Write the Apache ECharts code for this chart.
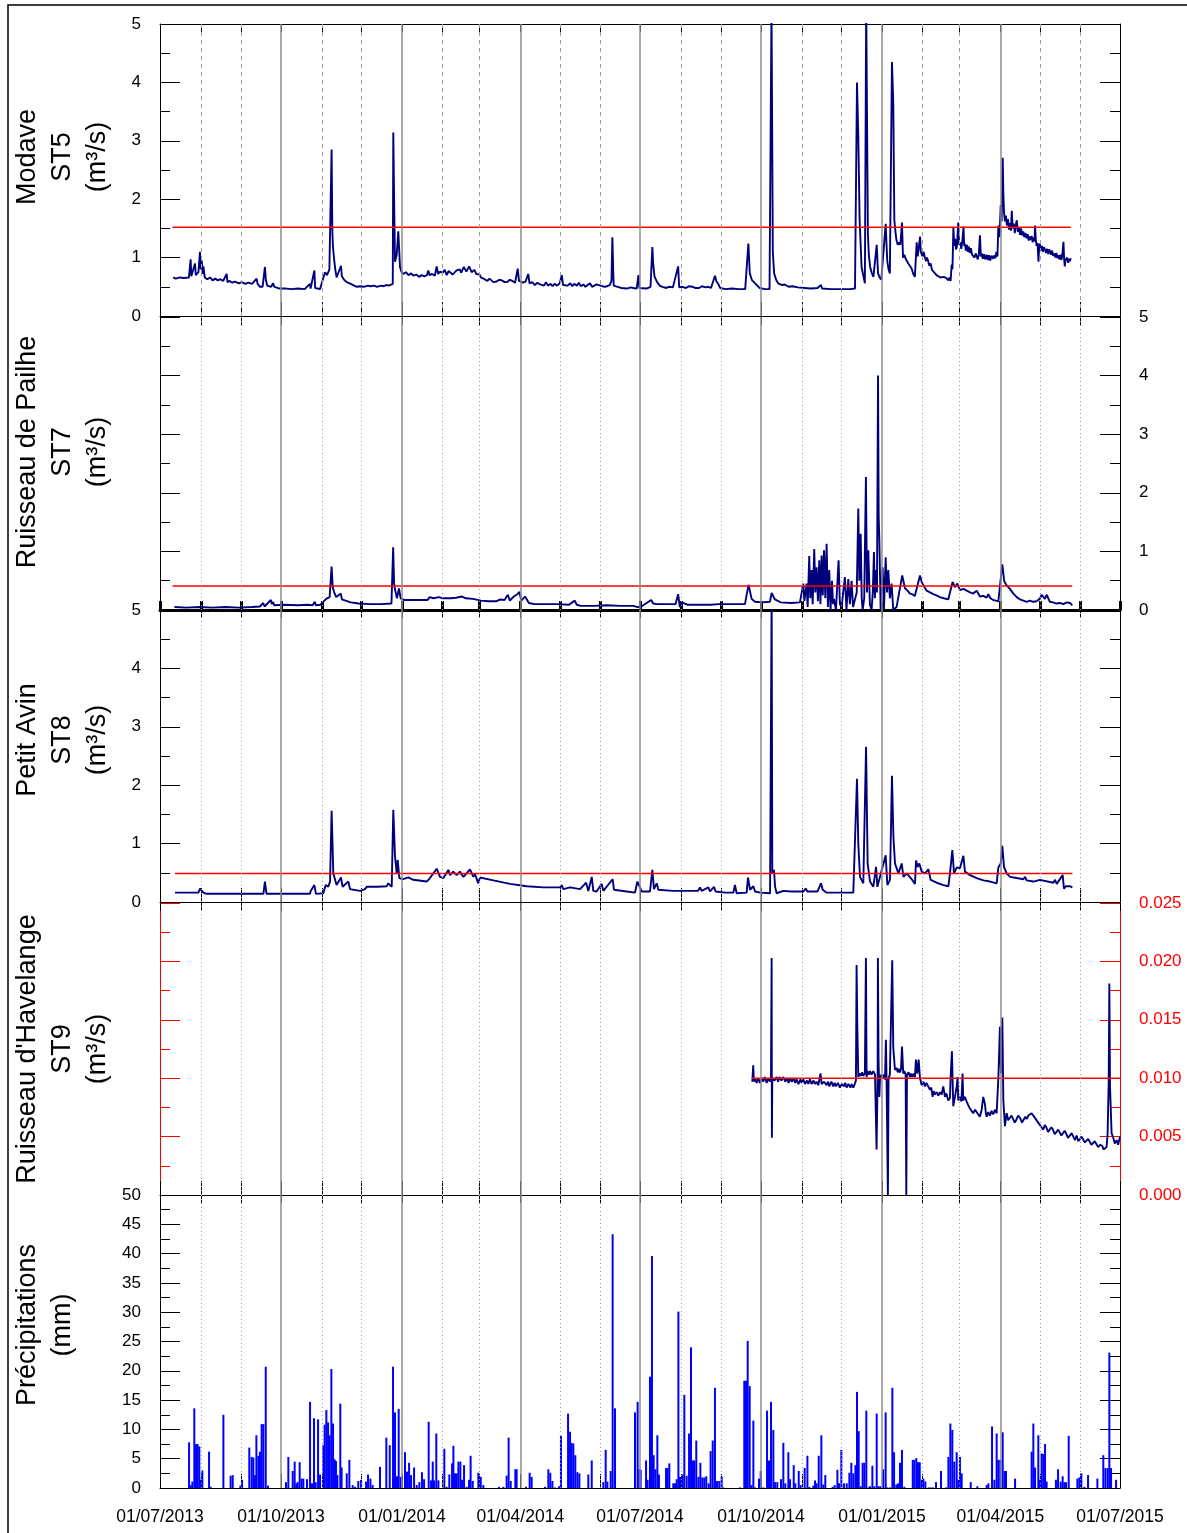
<!DOCTYPE html>
<html>
<head>
<meta charset="utf-8">
<script src="https://cdn.jsdelivr.net/npm/echarts@6/dist/echarts.min.js"></script>
<style>
  html, body { margin: 0; padding: 0; background: #fff; }
  #chart { width: 1187px; height: 1533px; }
</style>
</head>
<body>
<div id="chart"></div>
<script>
// x values are days counted from 01/07/2013
const monthStarts = [0, 31, 62, 92, 123, 153, 184, 215, 243, 274, 304, 335, 365,
  396, 427, 457, 488, 518, 549, 580, 608, 639, 669, 700, 730];
const quarterStarts = [0, 92, 184, 274, 365, 457, 549, 639, 730];
const quarterLabels = ['01/07/2013', '01/10/2013', '01/01/2014', '01/04/2014', '01/07/2014',
  '01/10/2014', '01/01/2015', '01/04/2015', '01/07/2015'];

// Modave ST5 discharge (m³/s)
const st5Flow = [[10,0.66],[12,0.64],[15,0.66],[18,0.65],[22,0.66],[23.3,0.97],[23.8,0.68],[25.3,0.68],[26.6,0.90],[27.2,0.70],[29.2,0.75],[30.4,1.10],[31,0.80],[31.7,0.95],[32.5,0.72],[33,0.85],[34,0.66],[36,0.63],[38,0.66],[40,0.61],[42,0.64],[44,0.61],[46,0.63],[48,0.60],[50.7,0.72],[51.3,0.58],[53,0.60],[55,0.57],[57,0.59],[60,0.56],[62,0.58],[65,0.55],[67,0.57],[70,0.55],[73.5,0.64],[74.2,0.55],[76,0.50],[78,0.50],[79.8,0.84],[80.5,0.62],[81.5,0.52],[83,0.55],[84.5,0.50],[86,0.56],[87,0.50],[91,0.47],[95,0.47],[100,0.46],[105,0.47],[110,0.46],[114,0.55],[114.5,0.47],[117.4,0.78],[118,0.48],[121.7,0.46],[123.5,0.60],[125.5,0.75],[127,0.70],[128.8,0.80],[130.5,2.85],[131,1.50],[131.5,1.19],[132.5,0.95],[133.4,0.78],[134.3,0.66],[137.6,0.86],[138.3,0.68],[140,0.62],[142,0.58],[145,0.55],[149.6,0.50],[152,0.51],[155,0.50],[158,0.52],[160,0.51],[163,0.52],[165,0.50],[168,0.52],[170,0.51],[172,0.53],[174,0.52],[177,0.55],[177.4,3.14],[178,2.04],[178.7,0.93],[180,1.05],[181.2,1.45],[182.5,0.84],[183.5,0.76],[185,0.72],[187,0.75],[189,0.70],[191,0.73],[192.6,0.69],[195,0.71],[197,0.67],[199,0.70],[201,0.68],[203,0.70],[204,0.78],[205,0.70],[207,0.72],[209,0.69],[210.4,0.85],[211.5,0.72],[213,0.76],[215,0.74],[216.5,0.79],[218,0.70],[219.5,0.77],[221,0.76],[222.5,0.71],[224,0.72],[225.5,0.78],[227,0.75],[228,0.80],[229,0.74],[230,0.77],[231,0.84],[232,0.83],[233,0.76],[234,0.78],[235,0.85],[236,0.82],[237,0.75],[238,0.77],[239,0.79],[240.5,0.72],[242,0.74],[243,0.71],[244,0.66],[245,0.69],[246,0.64],[247.5,0.62],[249,0.60],[250.5,0.64],[252,0.63],[253.5,0.58],[255,0.61],[256,0.59],[258,0.62],[260,0.61],[262,0.58],[264,0.58],[266,0.62],[268,0.60],[270,0.57],[272,0.81],[273,0.60],[274.5,0.62],[276,0.57],[278,0.59],[280,0.72],[281,0.56],[283,0.58],[285,0.53],[287,0.57],[289,0.54],[290,0.56],[292,0.52],[293.5,0.58],[295,0.52],[297,0.55],[298.5,0.51],[300,0.55],[302,0.52],[304,0.56],[305.5,0.70],[306.5,0.53],[308,0.55],[310,0.52],[312,0.56],[313.5,0.51],[315,0.55],[317,0.52],[318.5,0.57],[320,0.51],[322,0.54],[323.5,0.50],[325,0.53],[327,0.56],[328.5,0.50],[330,0.50],[332,0.54],[333.5,0.51],[335,0.52],[336.5,0.55],[338,0.50],[340,0.51],[342,0.53],[343.3,0.60],[344,1.35],[344.6,0.80],[345,0.52],[348,0.50],[351,0.48],[355,0.47],[358,0.49],[360,0.48],[362.5,0.47],[363.8,0.70],[364.5,0.48],[366,0.47],[370,0.47],[373,0.50],[374.4,1.18],[375,0.90],[376,0.68],[378,0.58],[380,0.52],[382,0.50],[385,0.48],[387,0.50],[390,0.49],[394,0.85],[394.8,0.49],[397,0.50],[400,0.48],[402,0.51],[405,0.50],[407,0.48],[410,0.48],[412,0.51],[415,0.49],[417,0.50],[419,0.48],[422,0.69],[423,0.60],[424.5,0.55],[426,0.48],[430,0.46],[435,0.47],[440,0.46],[445,0.46],[447.4,1.24],[448.5,0.73],[450,0.62],[452.5,0.56],[454,0.58],[456,0.48],[460,0.46],[463.5,0.46],[465,5.3],[466,1.10],[467,0.73],[468.5,0.62],[470,0.56],[473,0.53],[475,0.54],[478,0.50],[481,0.51],[485,0.49],[490,0.48],[495,0.47],[500,0.48],[502.6,0.53],[503.5,0.47],[510,0.46],[515,0.46],[520,0.46],[525,0.46],[528.5,0.47],[530,4.0],[531,3.07],[532,1.64],[533.5,0.84],[535,0.67],[536,0.56],[537,5.3],[538.3,1.40],[539,1.05],[540,0.84],[541.2,0.74],[542.5,0.67],[545,1.22],[546,0.73],[547.2,0.66],[548.5,0.62],[550,0.65],[551.8,1.58],[553,0.95],[554,0.80],[555,0.73],[556.6,4.35],[557.6,3.64],[558.4,1.64],[559.2,1.45],[560,1.30],[561,1.22],[562,1.26],[563,1.22],[564.2,1.60],[565,1.0],[566,1.05],[567,0.98],[568,0.95],[569,0.90],[570.2,0.86],[571.6,0.81],[572.8,0.72],[574,0.67],[575.4,1.26],[576.2,1.02],[577,1.18],[578,1.36],[578.5,1.10],[579,1.13],[579.8,1.02],[580.6,1.10],[581.7,1.0],[582.5,0.94],[583.2,1.00],[584,0.95],[585,0.86],[586,0.90],[587,0.79],[588,0.76],[589,0.74],[590.5,0.70],[592,0.69],[593.5,0.66],[595,0.68],[596,0.67],[597,0.64],[598,0.65],[599.5,0.61],[600.5,0.66],[601.2,0.60],[602,0.88],[602.6,0.80],[603.3,1.52],[604,1.20],[604.7,1.32],[605.3,1.14],[606,1.19],[607,1.60],[607.7,1.22],[608.5,1.26],[609.3,1.15],[610.2,1.30],[611,1.53],[611.5,1.20],[612,1.24],[612.8,1.12],[613.6,1.22],[614.3,1.10],[615,1.19],[615.8,1.08],[616.6,1.16],[617.5,1.05],[618.5,1.08],[619.4,1.00],[620.2,1.07],[621,1.03],[621.8,0.97],[622.6,1.05],[623.5,1.38],[624.2,1.02],[624.8,1.07],[625.7,0.98],[626.6,1.06],[627.5,0.97],[628.6,1.05],[629.5,0.96],[630.4,1.04],[631.3,0.95],[632.3,1.03],[633.6,0.98],[634.5,1.04],[635.3,0.99],[636,1.10],[636.8,1.02],[637.5,1.55],[638.4,1.35],[639.3,1.90],[640,1.62],[640.8,2.71],[641.3,2.10],[641.8,1.78],[642.5,1.62],[643.2,1.72],[644,1.55],[644.8,1.66],[645.6,1.48],[646.5,1.59],[647.1,1.46],[647.7,1.80],[648.4,1.50],[649.2,1.58],[650,1.42],[650.8,1.56],[651.5,1.64],[652.3,1.44],[653.1,1.52],[654,1.39],[654.8,1.50],[655.6,1.38],[656.4,1.45],[657.2,1.35],[658.1,1.42],[659,1.33],[659.8,1.40],[660.6,1.29],[661.3,1.36],[662,1.30],[662.8,1.37],[663.6,1.26],[664.3,1.34],[665,1.28],[665.4,1.55],[666,1.30],[666.6,1.20],[667.3,1.25],[668,0.93],[668.5,1.18],[669,1.24],[669.8,1.12],[670.6,1.20],[671.4,1.10],[672.2,1.18],[673,1.19],[673.8,1.08],[674.6,1.15],[675.5,1.06],[676.2,1.14],[676.8,1.14],[677.6,1.05],[678.4,1.12],[679.2,1.03],[680,1.07],[680.8,1.00],[681.6,1.08],[682.4,0.99],[683,1.04],[683.8,0.97],[684.6,1.05],[685.3,0.96],[686,1.01],[687,1.27],[687.5,0.98],[688,0.85],[688.5,0.95],[689,0.92],[689.8,1.00],[690.6,0.91],[691.4,0.98],[692,0.94],[692.5,0.99]];

// Ruisseau de Pailhe ST7 discharge (m³/s)
const st7Flow = [[11,0.05],[20,0.04],[30,0.05],[40,0.04],[50,0.05],[60,0.04],[70,0.05],[76,0.06],[78.5,0.12],[79.5,0.06],[84.3,0.17],[85,0.10],[85.8,0.14],[87,0.08],[95,0.09],[105,0.08],[112,0.09],[116,0.08],[117.7,0.14],[118.5,0.08],[122,0.09],[125,0.16],[127,0.20],[129,0.22],[130.5,0.74],[131.3,0.40],[132.3,0.31],[134,0.22],[135.2,0.20],[137.5,0.28],[138.3,0.18],[139.5,0.16],[145,0.13],[151,0.11],[160,0.10],[168,0.10],[176,0.11],[177.3,1.07],[178,0.45],[178.8,0.34],[180.2,0.20],[181.7,0.37],[183,0.20],[186,0.17],[195,0.17],[203.5,0.17],[205,0.22],[208,0.20],[212,0.22],[215,0.20],[221,0.20],[225,0.21],[229.7,0.23],[232.6,0.20],[238,0.19],[244,0.16],[250,0.15],[256,0.15],[258.7,0.18],[262,0.17],[264.5,0.26],[266,0.16],[269,0.23],[271.8,0.27],[273.3,0.31],[274.7,0.16],[277.6,0.23],[279,0.24],[280.5,0.12],[285,0.10],[295,0.10],[302,0.10],[311,0.09],[315.4,0.16],[316.9,0.09],[320,0.07],[330,0.07],[340,0.08],[350,0.07],[360,0.07],[363,0.05],[366,0.06],[373.5,0.17],[375,0.11],[378,0.10],[385,0.10],[392,0.10],[394,0.27],[395.3,0.05],[396.8,0.13],[401,0.09],[410,0.09],[418.6,0.09],[425,0.10],[432,0.10],[438,0.10],[444.8,0.10],[447.5,0.43],[449.9,0.19],[452.4,0.14],[458,0.13],[463.8,0.14],[465.1,0.29],[467.6,0.18],[472,0.13],[480,0.12],[486.6,0.13],[489.2,0.45],[490,0.15],[491.7,0.45],[492.5,0.05],[493.7,0.92],[494.5,0.20],[495.5,0.68],[496.3,0.10],[497.5,1.04],[498.3,0.30],[499.3,0.73],[500.3,0.15],[501.3,0.85],[502.2,0.10],[503.1,0.93],[504,0.25],[504.9,1.02],[505.9,0.20],[506.9,1.13],[507.9,0.05],[508.9,0.68],[509.9,0.0],[511,0.50],[511.8,0.10],[512.5,0.19],[514,0.0],[516,0.85],[517,0.10],[518.3,0.05],[519.5,0.30],[520.8,0.56],[522,0.0],[523.4,0.53],[524.6,0.10],[525.9,0.50],[527,0.05],[528.5,0.05],[529.8,0.30],[531,1.73],[531.8,0.50],[532.8,1.30],[533.6,0.20],[534.3,0.0],[535.5,0.20],[536.8,2.27],[537.6,0.30],[538.6,1.02],[539.8,0.10],[541.1,0.0],[542,0.30],[542.9,0.99],[543.6,0.20],[544.4,0.68],[545.2,0.30],[546,4.0],[546.5,1.59],[547,1.20],[548,0.0],[549.5,0.73],[550.5,0.0],[551.8,0.90],[552.8,0.30],[553.8,0.68],[555,0.20],[556.3,0.45],[557.6,0.0],[558.9,0.0],[560.1,0.05],[564.4,0.59],[566.5,0.37],[568.5,0.33],[570.3,0.28],[572,0.27],[574,0.24],[577.9,0.59],[579.2,0.48],[581,0.40],[583,0.33],[585.5,0.30],[588,0.27],[590.5,0.25],[593,0.22],[596,0.20],[599.4,0.18],[602.7,0.48],[604.5,0.39],[606.3,0.45],[608.3,0.34],[611,0.36],[613.4,0.33],[616,0.30],[618.4,0.28],[621,0.33],[623.5,0.23],[626,0.24],[628.6,0.21],[629.8,0.27],[631.5,0.20],[633.6,0.17],[635.5,0.16],[637.5,0.15],[640.5,0.78],[642,0.49],[643.8,0.42],[646.3,0.36],[648.9,0.28],[651.5,0.22],[654,0.18],[656.5,0.16],[659,0.14],[661.5,0.16],[664,0.14],[666.5,0.15],[669,0.19],[670.4,0.26],[672.9,0.19],[674.2,0.26],[676.7,0.14],[679,0.13],[681.8,0.11],[684.3,0.12],[686.9,0.10],[689.5,0.13],[692,0.12],[693.7,0.08]];

// Petit Avin ST8 discharge (m³/s)
const st8Flow = [[11.4,0.16],[20,0.16],[29.2,0.16],[30.4,0.23],[33,0.16],[35.5,0.14],[50,0.14],[65,0.14],[78.6,0.14],[79.8,0.35],[81,0.14],[91,0.14],[100,0.14],[114,0.14],[114.6,0.19],[117.4,0.29],[118.6,0.14],[124.2,0.15],[126,0.29],[128,0.26],[129.3,0.35],[130.5,1.56],[131.8,0.49],[134.3,0.29],[137.6,0.42],[138.9,0.26],[143.2,0.35],[144.5,0.22],[152,0.19],[155.9,0.22],[157.2,0.26],[165,0.26],[172.4,0.27],[173.6,0.32],[176.2,0.26],[177.4,1.58],[178.7,0.78],[180,0.49],[180.7,0.72],[182,0.41],[185,0.39],[188.8,0.42],[192.6,0.38],[202.8,0.35],[205.3,0.41],[210.4,0.57],[212.9,0.43],[215.5,0.41],[219.3,0.55],[220.5,0.46],[223,0.52],[225.6,0.46],[228,0.52],[230.7,0.43],[233.2,0.49],[235.7,0.56],[238.3,0.43],[239.5,0.48],[242,0.32],[243.3,0.42],[253.5,0.37],[266.2,0.31],[278.8,0.27],[291.5,0.25],[304.2,0.25],[305.4,0.29],[306.7,0.22],[311.8,0.25],[319.4,0.22],[324,0.33],[325.7,0.19],[328.3,0.43],[329.5,0.19],[332,0.18],[335.9,0.31],[337.1,0.19],[344.2,0.39],[345.2,0.21],[354.9,0.18],[361.2,0.16],[363,0.35],[366.3,0.18],[372.6,0.18],[374.4,0.55],[375.6,0.22],[377.7,0.32],[379,0.21],[390,0.19],[400,0.19],[409,0.19],[410.6,0.25],[411.9,0.19],[417,0.25],[418.2,0.18],[421.3,0.26],[422.5,0.18],[430,0.16],[436,0.16],[437.2,0.29],[438.5,0.15],[446.1,0.16],[447.1,0.42],[448.7,0.21],[451.2,0.27],[452.5,0.18],[456.3,0.16],[463.9,0.15],[465.1,5.3],[465.6,0.49],[466.9,0.55],[467.7,0.26],[468.9,0.15],[474,0.19],[480,0.18],[489.2,0.18],[491,0.23],[492.3,0.18],[500,0.18],[502.6,0.32],[503.9,0.21],[507,0.16],[515,0.16],[527.2,0.16],[530,2.11],[531,1.0],[532.3,0.43],[534.8,0.32],[536.9,2.66],[538.1,0.66],[539.9,0.35],[542.4,0.26],[544.5,0.60],[545.5,0.26],[551.8,0.80],[553.1,0.29],[555.1,0.38],[556.6,2.16],[557.7,1.12],[558.9,0.66],[561.5,0.49],[564,0.66],[565.3,0.43],[567.8,0.49],[571.6,0.39],[574.1,0.31],[574.9,0.71],[576.2,0.60],[577.4,0.66],[579.2,0.52],[581.7,0.49],[584.3,0.56],[586,0.38],[590.6,0.33],[595.7,0.29],[599.5,0.27],[600.7,0.49],[602.5,0.89],[603.8,0.49],[605.8,0.59],[608.3,0.58],[610.9,0.79],[612.1,0.52],[616,0.46],[621,0.41],[626.1,0.37],[631.2,0.35],[636.2,0.32],[637.5,0.59],[639.3,0.66],[640.5,0.96],[641.8,0.60],[643.8,0.49],[646.4,0.43],[651.4,0.41],[656.5,0.39],[657.8,0.43],[659,0.37],[664.1,0.35],[669.2,0.38],[679.3,0.33],[680.6,0.38],[681.9,0.31],[686.4,0.46],[687.4,0.23],[689,0.27],[692,0.27],[693.8,0.25]];

// Ruisseau d'Havelange ST9 discharge (m³/s)
const st9Flow = [[450.4,0.0097],[451.1,0.0111],[451.6,0.0097],[452.6,0.0100],[453.7,0.0096],[455,0.0100],[456.2,0.0096],[457.5,0.0100],[458.7,0.0097],[460,0.0101],[461.3,0.0096],[462.5,0.0100],[463.8,0.0097],[464.6,0.0100],[465.1,0.0203],[465.3,0.0049],[465.6,0.0100],[467.3,0.0098],[468.9,0.0101],[470,0.0097],[471,0.0101],[472.5,0.0098],[474,0.0101],[475.5,0.0097],[477,0.0100],[478,0.0096],[479,0.0100],[480.5,0.0097],[482,0.0100],[483,0.0096],[484.1,0.0099],[485.5,0.0095],[487,0.0099],[488,0.0096],[489.2,0.0099],[490.5,0.0095],[492,0.0098],[493,0.0095],[494.2,0.0099],[495.5,0.0095],[497,0.0098],[498,0.0095],[499.3,0.0097],[500.5,0.0094],[502.3,0.0104],[503.1,0.0095],[505,0.0097],[506.9,0.0094],[508,0.0097],[509,0.0093],[510.5,0.0097],[512,0.0093],[513,0.0096],[514,0.0093],[515.5,0.0096],[517,0.0092],[518.5,0.0095],[520,0.0093],[521,0.0096],[522.1,0.0092],[523.5,0.0095],[525,0.0092],[526,0.0095],[527.2,0.0092],[528.3,0.0095],[529.2,0.0098],[529.7,0.0197],[530.2,0.0148],[531,0.0101],[532,0.0104],[533,0.0102],[534,0.0105],[534.8,0.0102],[536,0.0104],[536.8,0.0203],[537.3,0.0101],[538,0.0106],[539,0.0103],[540,0.0106],[541.1,0.0103],[542.4,0.0106],[543.7,0.0103],[544.9,0.0039],[545.7,0.0104],[545.9,0.0203],[546.4,0.0116],[547,0.0084],[547.5,0.0100],[548.3,0.0103],[549,0.0100],[550.2,0.0103],[551.3,0.0099],[552,0.0133],[552.5,0.0098],[553.5,0.0],[554,0.0100],[555,0.0103],[556.3,0.0104],[556.8,0.0201],[557.6,0.0126],[558.9,0.0107],[560,0.0109],[561,0.0105],[561.8,0.0108],[562.7,0.0105],[563.5,0.0108],[564.2,0.0127],[565.2,0.0104],[566,0.0106],[567,0.0103],[567.5,0.0],[568,0.0103],[569.2,0.0105],[570.3,0.0101],[571,0.0104],[572,0.0101],[573,0.0104],[574.1,0.0101],[574.8,0.0116],[575.9,0.0104],[576.9,0.0116],[577.9,0.0100],[578.6,0.0097],[579.2,0.0094],[580.5,0.0097],[581.7,0.0093],[582.8,0.0096],[584.2,0.0097],[585.5,0.0090],[586.5,0.0092],[587.5,0.0084],[588.3,0.0089],[589,0.0086],[590.6,0.0088],[591.8,0.0085],[593.1,0.0088],[594.4,0.0086],[595.6,0.0093],[596.9,0.0084],[598,0.0087],[599.4,0.0081],[600.7,0.0083],[601.2,0.0101],[602.2,0.0123],[603.2,0.0076],[604.5,0.0084],[605.8,0.0093],[606.5,0.0101],[607,0.0081],[608.3,0.0084],[609.4,0.0080],[610.3,0.0104],[610.8,0.0081],[612,0.0084],[613.4,0.0080],[614.6,0.0077],[615.9,0.0074],[617.1,0.0072],[618.4,0.0070],[619.8,0.0073],[621,0.0071],[622.2,0.0069],[623.5,0.0067],[624.8,0.0073],[626,0.0084],[627.3,0.0078],[628,0.0070],[628.6,0.0067],[629.8,0.0071],[631.1,0.0068],[632.3,0.0072],[633.6,0.0069],[634.9,0.0073],[636.2,0.0070],[637.5,0.0100],[638.7,0.0144],[639.5,0.0104],[640.5,0.0152],[641.3,0.0081],[642.5,0.0059],[643.8,0.0070],[645,0.0064],[646.3,0.0063],[647.5,0.0068],[648.9,0.0067],[650,0.0062],[651,0.0064],[652.5,0.0068],[654,0.0066],[655.5,0.0062],[657,0.0063],[658,0.0067],[659,0.0065],[660.3,0.0068],[661.5,0.0067],[662.8,0.0070],[664.1,0.0071],[665.3,0.0066],[666.6,0.0067],[667.8,0.0062],[669.1,0.0061],[670.3,0.0058],[671.7,0.0056],[672.8,0.0060],[674,0.0058],[675.3,0.0054],[676.7,0.0055],[677.8,0.0058],[679,0.0056],[680.4,0.0052],[681.8,0.0053],[683,0.0056],[684,0.0055],[685.4,0.0051],[686.9,0.0052],[688,0.0055],[689,0.0054],[690.5,0.0049],[692,0.0051],[693.2,0.0053],[694.5,0.0050],[695.8,0.0047],[697,0.0051],[698.3,0.0046],[699.6,0.0048],[700.8,0.0050],[702,0.0049],[703.3,0.0045],[704.6,0.0046],[705.8,0.0048],[707,0.0047],[708.3,0.0043],[709.7,0.0044],[710.8,0.0046],[712,0.0045],[713.4,0.0041],[714.8,0.0043],[715.6,0.0044],[716.5,0.0042],[717.5,0.0039],[718.6,0.0040],[719.8,0.0041],[720.6,0.0053],[721.4,0.0097],[721.9,0.0181],[722.4,0.0093],[723.6,0.0053],[724.9,0.0049],[726,0.0044],[727.4,0.0047],[728.6,0.0043],[730,0.0050]];

// Daily precipitation (mm)
const rainfall = [[22.1,7.8],[23.3,0.5],[24.6,1.1],[26.1,13.6],[27.4,7.5],[28.6,7.5],[29.9,7.1],[30.7,1.4],[32.2,3.0],[37.3,6.2],[38.5,0.2],[48.2,12.5],[53.7,2.1],[55.3,2.2],[61.1,0.4],[62.4,1.4],[67.9,6.9],[69.7,5.3],[71,5.2],[72.2,2.2],[73.3,9.0],[74.8,5.5],[76,6.2],[77.3,10.9],[78.6,10.9],[80.4,20.7],[82.1,0.4],[95.8,1.0],[97.6,5.3],[100.9,2.9],[102.4,4.5],[103.7,0.8],[104.7,1.0],[106.2,4.4],[107.7,1.6],[109,1.6],[111.8,1.5],[114.1,14.7],[115.6,0.8],[117.1,11.9],[118.4,1.0],[120.2,11.7],[121.7,2.3],[124.2,7.3],[125.2,10.8],[126.5,13.3],[127.8,11.2],[129,9.0],[130.3,20.3],[131.6,11.0],[132.8,4.9],[133.8,4.6],[134.9,2.2],[137.1,14.4],[138.1,3.5],[142,2.5],[144,4.8],[146.5,0.5],[148.3,0.2],[150.8,1.2],[152.9,1.4],[156.7,1.1],[158.2,2.3],[160,1.6],[161.7,0.5],[167.3,3.6],[172.1,8.6],[174.7,7.3],[177.2,20.7],[178.7,12.9],[180.2,2.0],[181.5,13.5],[183,1.9],[186.3,6.1],[187.8,2.8],[189.4,4.3],[190.9,2.2],[193.2,3.5],[195.2,0.5],[197.2,1.0],[199.2,2.7],[200.8,1.5],[204.3,11.3],[206.1,1.3],[207.4,4.5],[208.4,1.3],[210.1,9.3],[211.7,1.3],[216.2,6.7],[218,0.2],[220,2.3],[222.1,4.2],[223.1,7.2],[224.3,2.5],[225.6,2.5],[226.9,4.5],[228.4,4.5],[229.7,1.4],[231.2,3.9],[233.2,0.2],[235,1.4],[236.2,5.5],[237.8,1.2],[242.1,2.6],[243.9,1.9],[245.9,0.5],[257.8,0.2],[261.1,0.2],[263.6,2.1],[265.1,8.6],[266.7,1.2],[270.2,3.2],[271.2,3.2],[278.3,0.2],[281.1,2.6],[282.6,1.9],[292.8,0.2],[295.3,3.2],[296.8,2.6],[298.4,1.2],[300.4,0.1],[303.4,0.3],[304.9,8.9],[310.3,12.7],[311.8,9.6],[313,7.7],[314.3,7.6],[315.8,5.6],[317.4,2.7],[318.9,2.5],[325.7,2.3],[328.3,4.7],[337.1,1.0],[338.9,6.5],[340.2,1.1],[342.7,2.9],[344.2,43.3],[346,13.6],[361.2,12.9],[363.2,14.7],[364.5,3.2],[365.5,3.1],[369.6,4.7],[370.8,1.4],[372.6,19.0],[374.1,39.6],[375.4,5.6],[376.7,3.2],[378.2,9.0],[379.4,2.3],[384.8,3.4],[386,3.4],[387.3,4.2],[390.3,0.8],[391.6,0.8],[392.9,1.5],[394.2,30.1],[395.4,1.9],[397.4,2.3],[398.7,15.9],[400.5,2.1],[402.3,9.3],[403.8,24.0],[405.3,4.7],[406.3,4.7],[407.8,8.1],[409.4,1.9],[410.9,4.3],[412.4,1.8],[413.9,1.8],[415.4,2.0],[417.2,0.8],[418.7,6.3],[420.3,8.1],[422,17.1],[423.6,1.2],[425.3,1.2],[427.1,2.0],[428.4,0.1],[441,0.1],[444.3,18.3],[445.6,18.3],[446.9,25.1],[448.4,17.4],[449.7,0.5],[451.2,11.5],[452.5,0.1],[455.5,1.6],[456.8,2.9],[458.8,0.1],[461.6,13.2],[463.1,4.7],[464.6,14.7],[466.4,9.9],[467.7,1.0],[469.4,1.0],[472.2,1.5],[474,7.7],[475.5,0.8],[477.8,6.1],[479.1,1.5],[481.9,3.9],[483.1,0.8],[485.7,2.9],[487.2,0.5],[490.2,3.4],[492.3,5.5],[493.8,0.2],[496.8,0.4],[498.1,1.3],[499.3,0.8],[500.9,5.5],[502.9,9.0],[504.4,0.6],[505.9,2.2],[511.5,0.2],[513,0.5],[515.1,3.1],[516.3,0.8],[518.1,6.5],[520.1,0.8],[522.2,0.8],[524.2,2.6],[525.7,4.3],[527.2,2.5],[528.8,3.9],[530,16.4],[531.3,9.7],[532.8,0.3],[534.3,4.3],[535.6,4.3],[537.1,13.2],[538.6,0.1],[539.9,0.3],[541.7,3.8],[543.2,0.3],[545,12.7],[546.5,0.3],[547.8,0.3],[550,3.2],[551.8,12.9],[553.1,0.1],[555.1,0.1],[556.9,17.1],[558.2,6.1],[559.9,0.6],[561.2,0.8],[562.7,4.3],[564.2,6.5],[566,0.2],[572.4,4.8],[573.6,4.8],[575.1,5.1],[576.4,4.4],[577.7,4.4],[579.2,1.4],[580.5,1.6],[582,1.1],[584.5,0.1],[586,0.1],[587.8,0.1],[590.1,1.0],[593.9,2.9],[597.7,0.1],[599.5,5.3],[601,11.0],[602.5,9.9],[604,4.5],[605.8,6.1],[607.1,1.4],[608.3,5.3],[609.6,2.5],[616.5,1.0],[621.5,0.3],[628.6,0.5],[629.9,0.8],[632.7,10.5],[634.5,1.4],[636.2,9.3],[637.5,4.8],[639,4.8],[640.8,9.5],[642.3,2.9],[643.3,2.9],[650.2,1.6],[662.8,6.2],[664.1,11.0],[665.4,3.5],[667.9,9.0],[669.2,1.4],[670.4,5.9],[671.7,5.8],[673,7.5],[674.2,1.1],[681.3,1.4],[682.9,3.2],[684.9,1.1],[686.4,2.0],[687.7,1.0],[689,1.0],[691,8.9],[697.6,1.6],[699.1,1.8],[700.6,2.5],[702.9,0.2],[705.7,2.2],[712.8,1.6],[717.3,5.6],[718.9,3.4],[720.6,3.4],[721.9,23.1],[723.2,3.4],[727,1.4]];

// Reference discharge levels (value, first day, last day)
const st5Reference = [1.52, 9.6, 692.5];
const st7Reference = [0.41, 9.6, 693.7];
const st8Reference = [0.49, 11.4, 693.8];
const st9Reference = [0.010, 450.2, 730];

const BLACK = '#000000';
const RED = '#ff0000';
const NAVY = '#00007c';
const RAIN_BLUE = '#0000ff';
const FONT = '"Liberation Sans", Arial, sans-serif';

const gridTops = [24, 317, 610, 903, 1195];
const gridHeights = [292, 293, 292, 292, 293];

const grids = gridTops.map((t, i) => ({
  left: 160, width: 960, top: t, height: gridHeights[i],
  containLabel: false, outerBoundsMode: 'none', show: false
}));

// bottom axis carries the frame line, the top axis only draws its ticks
// (except on the first panel, where it closes the frame)
function xAxesFor(i, opt) {
  const lineW = opt.thick ? 3 : 1;
  const bottom = {
    type: 'value', gridIndex: i, position: 'bottom', min: 0, max: 730,
    axisLine: { show: true, onZero: false, lineStyle: { color: BLACK, width: lineW } },
    axisTick: { show: true, inside: true, length: opt.thick ? 9 : 14, customValues: monthStarts,
      lineStyle: { color: BLACK, width: lineW } },
    axisLabel: opt.labels ? {
      show: true, customValues: quarterStarts, margin: 20, fontSize: 17.5, color: BLACK, fontFamily: FONT,
      formatter: v => { const k = quarterStarts.indexOf(v); return k >= 0 ? quarterLabels[k] : ''; }
    } : { show: false },
    splitLine: { show: false }
  };
  const top = {
    type: 'value', gridIndex: i, position: 'top', min: 0, max: 730,
    axisLine: { show: i === 0, onZero: false, lineStyle: { color: BLACK, width: 1 } },
    axisTick: { show: true, inside: true, length: 8, customValues: monthStarts, lineStyle: { color: BLACK } },
    axisLabel: { show: false }, splitLine: { show: false }
  };
  return [bottom, top];
}

function yAxesFor(i, opt) {
  const make = (pos, withLabels) => ({
    type: 'value', gridIndex: i, position: pos, min: 0, max: opt.max, interval: opt.step,
    axisLine: { show: true, onZero: false, lineStyle: { color: opt.color, width: 1 } },
    axisTick: { show: true, inside: true, length: 20, lineStyle: { color: opt.color } },
    minorTick: { show: true, splitNumber: 2, length: 10, lineStyle: { color: opt.color } },
    axisLabel: { show: withLabels, margin: 19, fontSize: 17, color: opt.color, fontFamily: FONT,
      formatter: opt.fmt },
    splitLine: { show: false }, minorSplitLine: { show: false }
  });
  return [make('left', opt.side === 'left'), make('right', opt.side === 'right')];
}

const xAxes = [
  ...xAxesFor(0, {}),
  ...xAxesFor(1, { thick: true }),
  ...xAxesFor(2, {}),
  ...xAxesFor(3, {}),
  ...xAxesFor(4, { labels: true })
];
const intFmt = v => String(Math.round(v));
const yAxes = [
  ...yAxesFor(0, { max: 5, step: 1, color: BLACK, side: 'left', fmt: intFmt }),
  ...yAxesFor(1, { max: 5, step: 1, color: BLACK, side: 'right', fmt: intFmt }),
  ...yAxesFor(2, { max: 5, step: 1, color: BLACK, side: 'left', fmt: intFmt }),
  ...yAxesFor(3, { max: 0.025, step: 0.005, color: RED, side: 'right', fmt: v => v.toFixed(3) }),
  ...yAxesFor(4, { max: 50, step: 5, color: BLACK, side: 'left', fmt: intFmt })
];

// vertical month / quarter grid lines drawn as mark lines
function monthLines(i, dashed) {
  return {
    type: 'line', xAxisIndex: 2 * i, yAxisIndex: 2 * i, data: [], silent: true, z: 1,
    markLine: {
      silent: true, symbol: ['none', 'none'], label: { show: false }, animation: false,
      emphasis: { disabled: true },
      data: monthStarts.filter(d => d > 0 && d < 730).map(d => quarterStarts.includes(d)
        ? { xAxis: d, lineStyle: { color: '#8c8c8c', width: 1.5, type: 'solid' } }
        : { xAxis: d, lineStyle: { color: '#9c9c9c', width: 1, type: dashed ? [4, 4] : [1, 3] } })
    }
  };
}

function flowLine(i, data) {
  return {
    type: 'line', xAxisIndex: 2 * i, yAxisIndex: 2 * i, data: data, showSymbol: false,
    symbol: 'none', clip: true, z: 3, silent: true,
    lineStyle: { color: NAVY, width: 1.9 }
  };
}

function referenceLine(i, ref) {
  return {
    type: 'line', xAxisIndex: 2 * i, yAxisIndex: 2 * i, symbol: 'none', z: 4, silent: true,
    data: [[ref[1], ref[0]], [ref[2], ref[0]]],
    lineStyle: { color: RED, width: 1.5 }
  };
}

const series = [
  monthLines(0, true), monthLines(1, false), monthLines(2, false), monthLines(3, false), monthLines(4, false),
  flowLine(0, st5Flow), referenceLine(0, st5Reference),
  flowLine(1, st7Flow), referenceLine(1, st7Reference),
  flowLine(2, st8Flow), referenceLine(2, st8Reference),
  flowLine(3, st9Flow), referenceLine(3, st9Reference),
  {
    type: 'bar', xAxisIndex: 8, yAxisIndex: 8, data: rainfall, barWidth: 2, z: 3, silent: true,
    itemStyle: { color: RAIN_BLUE }
  }
];

function sideTitle(x, y, lines) {
  return {
    type: 'text', x: x, y: y, rotation: Math.PI / 2, silent: true,
    style: {
      text: lines.join('\n'), font: '27px ' + FONT, fill: BLACK,
      align: 'center', verticalAlign: 'middle', textAlign: 'center', textVerticalAlign: 'middle',
      lineHeight: 35
    }
  };
}

const option = {
  animation: false,
  backgroundColor: '#ffffff',
  grid: grids,
  xAxis: xAxes,
  yAxis: yAxes,
  series: series,
  graphic: [
    { type: 'rect', silent: true, shape: { x: 8, y: 5, width: 1300, height: 1600 },
      style: { fill: 'none', stroke: BLACK, lineWidth: 1.5 } },
    sideTitle(63, 157, ['Modave', 'ST5', '(m³/s)']),
    sideTitle(63, 452, ['Ruisseau de Pailhe', 'ST7', '(m³/s)']),
    sideTitle(63, 740, ['Petit Avin', 'ST8', '(m³/s)']),
    sideTitle(63, 1049, ["Ruisseau d'Havelange", 'ST9', '(m³/s)']),
    sideTitle(45.5, 1325, ['Précipitations', '(mm)'])
  ]
};

const chart = echarts.init(document.getElementById('chart'), null, { renderer: 'canvas' });
chart.setOption(option);
</script>
</body>
</html>
